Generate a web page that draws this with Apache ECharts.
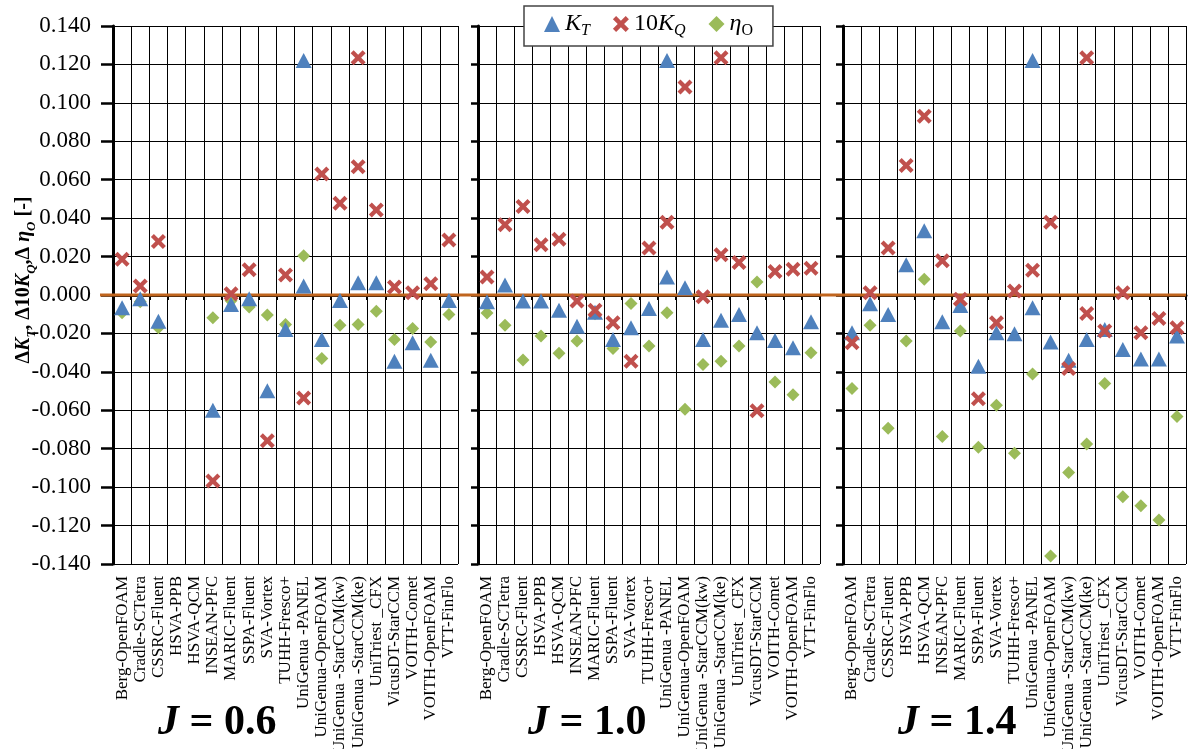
<!DOCTYPE html>
<html><head><meta charset="utf-8">
<script src="https://cdn.jsdelivr.net/npm/echarts@6/dist/echarts.min.js"></script>
<style>html,body{margin:0;padding:0;background:#fff}#c{width:1192px;height:749px}</style>
</head><body><div id="c"></div>
<script>
const categories = ['Berg-OpenFOAM','Cradle-SCTetra','CSSRC-Fluent','HSVA-PPB','HSVA-QCM','INSEAN-PFC','MARIC-Fluent','SSPA-Fluent','SVA-Vortex','TUHH-Fresco+','UniGenua -PANEL','UniGenua-OpenFOAM','UniGenua -StarCCM(kw)','UniGenua -StarCCM(ke)','UniTriest _CFX','VicusDT-StarCCM','VOITH-Comet','VOITH-OpenFOAM','VTT-FinFlo'];
const jValues = ['0.6','1.0','1.4'];

// J = 0.6
const kt06  = [-0.0066,-0.002,-0.0136,null,null,-0.060,-0.0049,-0.002,-0.0498,-0.018,0.0047,-0.0231,-0.0028,0.0064,0.0064,-0.0345,-0.0249,-0.034,-0.0028];
const kq06  = [0.0186,0.0047,0.0278,null,null,-0.0968,0.0007,0.0132,-0.0759,0.0104,-0.0536,0.063,0.0477,0.0668,0.0442,0.0042,0.0012,0.0059,0.0286];
const eta06 = [-0.0092,-0.0035,-0.017,null,null,-0.0118,-0.003,-0.0063,-0.0104,-0.0153,0.0204,-0.033,-0.0157,-0.0153,-0.0084,-0.0231,-0.0174,-0.0244,-0.0101];
// J = 1.0
const kt10  = [-0.0035,0.0052,-0.0031,-0.0031,-0.008,-0.0162,-0.009,-0.0231,-0.017,-0.007,0.0094,0.0038,-0.0231,-0.0132,-0.0101,-0.0197,-0.0237,-0.0275,-0.0139];
const kq10  = [0.0094,0.0366,0.0461,0.0261,0.029,-0.0031,-0.008,-0.0144,-0.0345,0.0244,0.0378,0.1083,-0.0009,0.0209,0.0169,-0.0602,0.0122,0.0134,0.0139];
const eta10 = [-0.0094,-0.0158,-0.0338,-0.0214,-0.0303,-0.024,-0.0097,-0.0278,-0.0044,-0.0266,-0.0092,-0.0594,-0.0362,-0.0345,-0.0266,0.0068,-0.0453,-0.0519,-0.0301];
// J = 1.4
const kt14  = [-0.0197,-0.0045,-0.0101,0.0157,0.0334,-0.0139,-0.0054,-0.0371,-0.0197,-0.0202,-0.0066,-0.0245,-0.034,-0.0231,-0.018,-0.0284,-0.0333,-0.0333,-0.0214];
const kq14  = [-0.0249,0.0012,0.0244,0.0674,0.093,0.0178,-0.0022,-0.054,-0.0144,0.0021,0.0129,0.0378,-0.0383,-0.0096,-0.0188,0.0012,-0.0197,-0.0122,-0.017];
const eta14 = [-0.0487,-0.0158,-0.0693,-0.024,0.0082,-0.0736,-0.0188,-0.0792,-0.0574,-0.0823,-0.0411,-0.1358,-0.0924,-0.0776,-0.0461,-0.105,-0.1097,-0.1171,-0.0632];
// off-scale markers drawn near the top of each panel
const ktOffCat = 'UniGenua -PANEL';
const ktOffVal = 0.122;
const kqOffCat = 'UniGenua -StarCCM(ke)';
const kqOffVal = 0.1235;

const yMin = -0.14, yMax = 0.14, yStep = 0.02;

const SERIF = '"Liberation Serif","Times New Roman",serif';
const BLUE = '#4F81BD', RED = '#C0504D', GREEN = '#9BBB59', ZERO = '#C0651E';
const CROSS = 'path://M2,0 L5,3 L8,0 L10,2 L7,5 L10,8 L8,10 L5,7 L2,10 L0,8 L3,5 L0,2 Z';

const panels = [
  {kt: kt06, kq: kq06, eta: eta06},
  {kt: kt10, kq: kq10, eta: eta10},
  {kt: kt14, kq: kq14, eta: eta14}
];

const gridBoxes = [
  {left: 113, width: 345, top: 26, height: 538},
  {left: 478, width: 342, top: 26, height: 538},
  {left: 843, width: 343, top: 26, height: 538},
  {left: 100, width: 1086, top: 26, height: 538}
];

const xAxes = [], yAxes = [], series = [];
for (let p = 0; p < 3; p++) {
  xAxes.push({
    type: 'category', gridIndex: p, data: categories, boundaryGap: true,
    axisLine: {show: true, lineStyle: {color: '#000', width: 3}},
    axisTick: {show: true, length: 5, lineStyle: {color: '#000', width: 2}, interval: 0},
    splitLine: {show: true, interval: 0, lineStyle: {color: '#000', width: 1}},
    axisLabel: {interval: 0, rotate: 90, margin: 12, color: '#000', fontFamily: SERIF, fontSize: 17}
  });
  const ya = {
    type: 'value', gridIndex: p, min: yMin, max: yMax, interval: yStep,
    axisLine: {show: true, lineStyle: {color: '#000', width: 3}},
    axisTick: {show: true, length: p === 0 ? 12 : 7, lineStyle: {color: '#000', width: 2.5}},
    splitLine: {show: true, lineStyle: {color: '#000', width: 1}},
    axisLabel: {show: p === 0, margin: 22, color: '#000', fontFamily: SERIF, fontSize: 23,
      formatter: v => v.toFixed(3)}
  };
  if (p === 0) {
    ya.name = '{b|Δ}{bi|K}{s|T}{b|, Δ10}{bi|K}{s|Q}{b|,Δ }{bi|η}{s|O}{b| [-]}';
    ya.nameLocation = 'middle';
    ya.nameRotate = 90;
    ya.nameGap = 75;
    ya.nameMoveOverlap = false;
    ya.nameTextStyle = {
      padding: [0, 0, 0, 30],
      rich: {
        b: {fontFamily: SERIF, fontWeight: 'bold', fontSize: 20, color: '#000', lineHeight: 28},
        bi: {fontFamily: SERIF, fontWeight: 'bold', fontStyle: 'italic', fontSize: 20, color: '#000', lineHeight: 28},
        s: {fontFamily: SERIF, fontWeight: 'bold', fontStyle: 'italic', fontSize: 13, color: '#000', lineHeight: 13, verticalAlign: 'bottom'}
      }
    };
  }
  yAxes.push(ya);

  const d = panels[p];
  const toPairs = arr => arr.map((v, i) => [categories[i], v]).filter(x => x[1] !== null);
  series.push({
    name: 'KT', type: 'scatter', xAxisIndex: p, yAxisIndex: p, z: 5,
    symbol: 'triangle', symbolSize: [16, 15], itemStyle: {color: BLUE, opacity: 1},
    data: toPairs(d.kt).concat([[ktOffCat, ktOffVal]])
  });
  series.push({
    name: '10KQ', type: 'scatter', xAxisIndex: p, yAxisIndex: p, z: 5,
    symbol: CROSS, symbolSize: 15, itemStyle: {color: RED, opacity: 1},
    data: toPairs(d.kq).concat([[kqOffCat, kqOffVal]])
  });
  series.push({
    name: 'ηO', type: 'scatter', xAxisIndex: p, yAxisIndex: p, z: 4,
    symbol: 'diamond', symbolSize: 13, itemStyle: {color: GREEN, opacity: 1},
    data: toPairs(d.eta)
  });
}
// full-width zero reference line
xAxes.push({type: 'value', gridIndex: 3, min: 0, max: 1, show: false});
yAxes.push({type: 'value', gridIndex: 3, min: yMin, max: yMax, show: false});
series.push({
  type: 'line', xAxisIndex: 3, yAxisIndex: 3, z: 3, symbol: 'none', silent: true,
  lineStyle: {color: ZERO, width: 3}, data: [[0, 0], [1, 0]]
});

const legendText = {'KT': '{i|K}{s|T}', '10KQ': '{n|10}{i|K}{s|Q}', 'ηO': '{i|η}{u|O}'};

const option = {
  backgroundColor: '#fff',
  animation: false,
  grid: gridBoxes.map(g => Object.assign({containLabel: false, outerBoundsMode: 'none'}, g)),
  xAxis: xAxes,
  yAxis: yAxes,
  legend: {
    data: ['KT', '10KQ', 'ηO'], left: 524, top: 6, z: 10,
    backgroundColor: '#fff', borderColor: '#444', borderWidth: 1.5,
    padding: [6, 20, 7, 20], itemGap: 23, itemWidth: 16, itemHeight: 16,
    formatter: n => legendText[n],
    textStyle: {
      rich: {
        i: {fontFamily: SERIF, fontStyle: 'italic', fontSize: 24, color: '#000', lineHeight: 30},
        n: {fontFamily: SERIF, fontSize: 24, color: '#000', lineHeight: 30},
        s: {fontFamily: SERIF, fontStyle: 'italic', fontSize: 16, color: '#000', lineHeight: 16, verticalAlign: 'bottom'},
        u: {fontFamily: SERIF, fontSize: 16, color: '#000', lineHeight: 16, verticalAlign: 'bottom'}
      }
    }
  },
  title: jValues.map((j, k) => ({
    text: '{j|J}{t| = ' + j + '}',
    left: [158, 528, 898][k], top: 702, padding: 0,
    textStyle: {
      rich: {
        j: {fontFamily: SERIF, fontWeight: 'bold', fontStyle: 'italic', fontSize: 42, color: '#000'},
        t: {fontFamily: SERIF, fontWeight: 'bold', fontSize: 42, color: '#000'}
      }
    }
  })),
  series: series
};
const chart = echarts.init(document.getElementById('c'));
chart.setOption(option);
</script>
</body></html>
